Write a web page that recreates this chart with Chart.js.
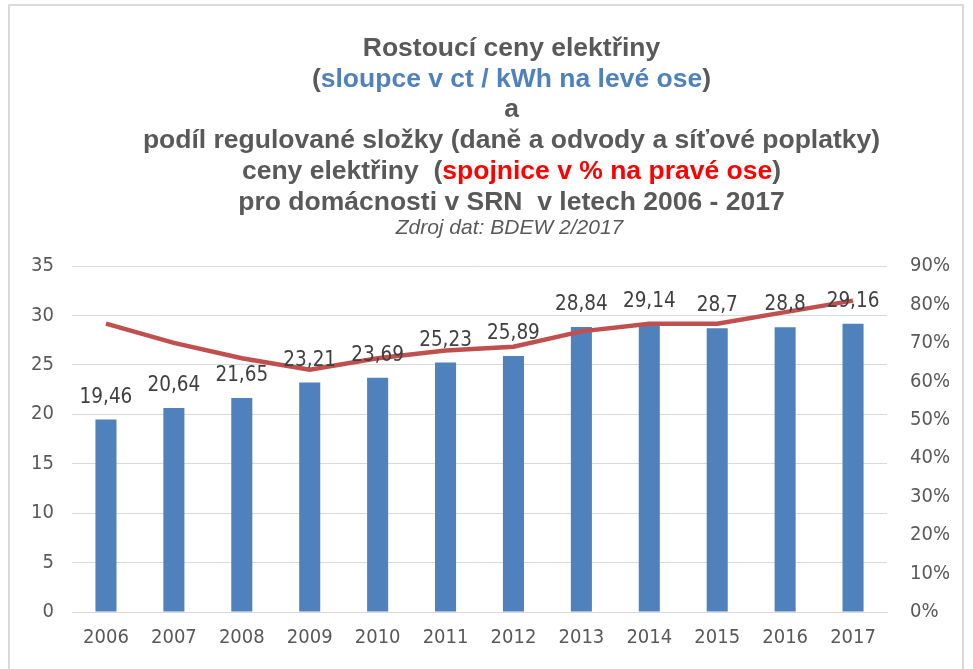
<!DOCTYPE html>
<html>
<head>
<meta charset="utf-8">
<script src="https://cdn.jsdelivr.net/npm/chart.js@4/dist/chart.umd.min.js"></script>
<style>
body { margin:0; background:#fff; }
#wrap { position:relative; width:973px; height:669px; overflow:hidden; }
#frame { position:absolute; left:8px; top:4px; width:956px; height:680px; border:2px solid #d9d9d9; box-sizing:border-box; }
#title { position:absolute; left:50px; top:32px; width:923px; text-align:center; font-family:"Liberation Sans",Arial,sans-serif; font-weight:bold; font-size:26.5px; line-height:30.7px; color:#595959; }
#title .blue { color:#4f81bd; }
#title .red { color:#ff0000; }
#source { position:absolute; left:48px; top:215px; width:923px; text-align:center; font-family:"Liberation Sans",Arial,sans-serif; font-style:italic; font-size:21px; color:#595959; }
#chart { position:absolute; left:0; top:0; }
</style>
</head>
<body>
<div id="wrap">
<div id="frame"></div>
<canvas id="chart" width="973" height="669"></canvas>
<div id="title">
Rostoucí ceny elektřiny<br>
(<span class="blue">sloupce v ct / kWh na levé ose</span>)<br>
a<br>
podíl regulované složky (daně a odvody a síťové poplatky)<br>
ceny elektřiny &nbsp;(<span class="red">spojnice v % na pravé ose</span>)<br>
pro domácnosti v SRN &nbsp;v letech 2006 - 2017
</div>
<div id="source">Zdroj dat: BDEW 2/2017</div>
</div>
<script>
//Chart data.
var years = ['2006','2007','2008','2009','2010','2011','2012','2013','2014','2015','2016','2017'];
var prices = [19.46, 20.64, 21.65, 23.21, 23.69, 25.23, 25.89, 28.84, 29.14, 28.7, 28.8, 29.16];
var regulatedShare = [0.75, 0.70, 0.66, 0.63, 0.66, 0.68, 0.69, 0.73, 0.75, 0.75, 0.78, 0.81];
var leftTicks = [0, 5, 10, 15, 20, 25, 30, 35];
var rightTicks = [0, 0.1, 0.2, 0.3, 0.4, 0.5, 0.6, 0.7, 0.8, 0.9];

var tickFont = {family: '"DejaVu Sans Condensed","DejaVu Sans",sans-serif', size: 20};

//Draw the bar values above each bar, like Excel data labels.
var barLabels = {
    id: 'barLabels',
    afterDatasetsDraw: function(chart) {
        var ctx = chart.ctx;
        var meta = chart.getDatasetMeta(1);
        ctx.save();
        ctx.font = '20.5px ' + tickFont.family;
        ctx.fillStyle = '#404040';
        ctx.textAlign = 'center';
        ctx.textBaseline = 'alphabetic';
        meta.data.forEach(function(bar, i) {
            ctx.fillText(String(prices[i]).replace('.', ','), bar.x, bar.y - 17);
        });
        ctx.restore();
    }
};

var ctx = document.getElementById('chart');
var chart = new Chart(ctx, {
    type: 'bar',
    data: {
        labels: years,
        datasets: [{
            type: 'line',
            label: 'Podíl regulované složky',
            data: regulatedShare,
            yAxisID: 'y2',
            borderColor: '#c0504d',
            borderWidth: 4.5,
            pointRadius: 0,
            tension: 0,
            fill: false,
            order: 0
        }, {
            type: 'bar',
            label: 'ct / kWh',
            data: prices,
            yAxisID: 'y',
            backgroundColor: '#4f81bd',
            barPercentage: 0.31,
            categoryPercentage: 1,
            order: 1
        }]
    },
    options: {
        responsive: false,
        animation: false,
        layout: {padding: {top: 266, bottom: 5, left: 0, right: 0}},
        plugins: {legend: {display: false}, tooltip: {enabled: false}},
        scales: {
            x: {
                grid: {display: false, drawTicks: false},
                border: {display: true, color: '#d9d9d9'},
                ticks: {color: '#595959', font: tickFont, padding: 14}
            },
            y: {
                position: 'left',
                min: 0, max: 35,
                afterBuildTicks: function(axis) { axis.ticks = leftTicks.map(function(v) { return {value: v}; }); },
                afterFit: function(axis) { axis.width = 72; },
                grid: {color: '#d9d9d9', drawTicks: false},
                border: {display: false},
                ticks: {color: '#595959', font: tickFont, padding: 18}
            },
            y2: {
                position: 'right',
                min: 0, max: 0.9,
                afterBuildTicks: function(axis) { axis.ticks = rightTicks.map(function(v) { return {value: v}; }); },
                afterFit: function(axis) { axis.width = 86; },
                grid: {display: false, drawTicks: false},
                border: {display: false},
                ticks: {
                    color: '#595959', font: tickFont, padding: 23,
                    callback: function(v) { return Math.round(v * 100) + '%'; }
                }
            }
        }
    },
    plugins: [barLabels]
});
</script>
</body>
</html>
